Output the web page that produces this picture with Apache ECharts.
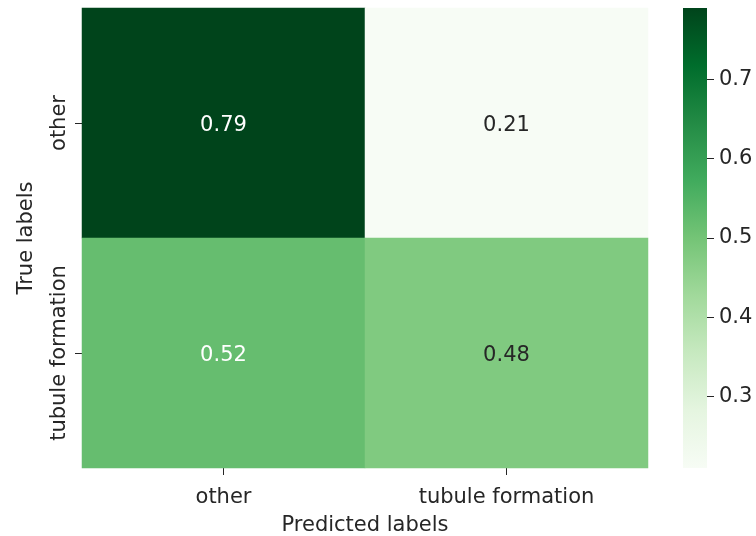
<!DOCTYPE html>
<html>
<head>
<meta charset="utf-8">
<script src="https://cdn.jsdelivr.net/npm/echarts@6/dist/echarts.min.js"></script>
<style>
  html, body { margin: 0; padding: 0; background: #ffffff; }
  #chart { width: 756px; height: 536px; }
</style>
</head>
<body>
<div id="chart"></div>
<script>
// Confusion matrix (row-normalised)
const predictedLabels = ['other', 'tubule formation'];
const trueLabels = ['other', 'tubule formation'];
const rowOther = [0.79, 0.21];
const rowTubule = [0.52, 0.48];
const colorbarTicks = [0.3, 0.4, 0.5, 0.6, 0.7];
const scaleMin = 0.21;
const scaleMax = 0.79;

// matplotlib "Greens" colormap stops
const greens = ['#f7fcf5', '#e5f5e0', '#c7e9c0', '#a1d99b', '#74c476',
                '#41ab5d', '#238b45', '#006d2c', '#00441b'];

const FONT = 'DejaVu Sans';
const TEXT = '#262626';
const FS = 21;

const rows = [rowOther, rowTubule];
const cells = [];
rows.forEach((row, yi) => {
  row.forEach((v, xi) => {
    cells.push({
      value: [xi, yi, v],
      label: { color: v >= 0.5 ? '#ffffff' : TEXT }
    });
  });
});

const chart = echarts.init(document.getElementById('chart'), null, { renderer: 'canvas' });

chart.setOption({
  animation: false,
  backgroundColor: '#ffffff',
  grid: [
    { left: 82, top: 8, width: 566, height: 460, containLabel: false, outerBoundsMode: 'none' },
    { left: 683, top: 8, width: 24, height: 460, containLabel: false, outerBoundsMode: 'none' }
  ],
  xAxis: [
    {
      gridIndex: 0,
      type: 'category',
      data: predictedLabels,
      position: 'bottom',
      axisLine: { show: false },
      axisTick: { show: true, alignWithLabel: true, interval: 0, length: 7, lineStyle: { color: TEXT, width: 1 } },
      axisLabel: { interval: 0, margin: 19, fontFamily: FONT, fontSize: FS, color: TEXT },
      splitLine: { show: false },
      name: 'Predicted labels',
      nameLocation: 'middle',
      nameGap: 47,
      nameTextStyle: { fontFamily: FONT, fontSize: FS, color: TEXT }
    },
    {
      gridIndex: 1,
      type: 'value',
      min: 0,
      max: 1,
      show: false
    }
  ],
  yAxis: [
    {
      gridIndex: 0,
      type: 'category',
      data: trueLabels,
      inverse: true,
      axisLine: { show: false },
      axisTick: { show: true, alignWithLabel: true, interval: 0, length: 7, lineStyle: { color: TEXT, width: 1 } },
      axisLabel: { interval: 0, hideOverlap: false, margin: 12, rotate: 90, fontFamily: FONT, fontSize: FS, color: TEXT },
      splitLine: { show: false },
      name: 'True labels',
      nameLocation: 'middle',
      nameGap: 45,
      nameTextStyle: { fontFamily: FONT, fontSize: FS, color: TEXT }
    },
    {
      gridIndex: 1,
      type: 'value',
      position: 'right',
      min: scaleMin,
      max: scaleMax,
      axisLine: { show: false, onZero: false },
      axisTick: { show: true, inside: false, length: 7, customValues: colorbarTicks, lineStyle: { color: TEXT, width: 1 } },
      axisLabel: {
        margin: 12, customValues: colorbarTicks, fontFamily: FONT, fontSize: FS, color: TEXT,
        formatter: v => v.toFixed(1)
      },
      splitLine: { show: false }
    }
  ],
  visualMap: {
    type: 'continuous',
    min: scaleMin,
    max: scaleMax,
    seriesIndex: 0,
    show: false,
    inRange: { color: greens }
  },
  series: [
    {
      type: 'heatmap',
      xAxisIndex: 0,
      yAxisIndex: 0,
      data: cells,
      label: {
        show: true,
        fontFamily: FONT,
        fontSize: FS,
        offset: [0, 3],
        formatter: p => p.value[2].toFixed(2)
      },
      itemStyle: { borderWidth: 0 },
      emphasis: { disabled: true }
    }
  ]
});

// Colour bar: a gradient rectangle filling the second grid, bottom = min, top = max
const [x0, yBottom] = chart.convertToPixel({ xAxisIndex: 1, yAxisIndex: 1 }, [0, scaleMin]);
const [x1, yTop] = chart.convertToPixel({ xAxisIndex: 1, yAxisIndex: 1 }, [1, scaleMax]);
const stops = greens.map((c, i) => ({ offset: 1 - i / (greens.length - 1), color: c }));
stops.reverse();
chart.setOption({
  graphic: [{
    type: 'rect',
    shape: { x: x0, y: yTop, width: x1 - x0, height: yBottom - yTop },
    style: { fill: new echarts.graphic.LinearGradient(0, 0, 0, 1, stops) },
    silent: true,
    z: 0
  }]
});
</script>
</body>
</html>
